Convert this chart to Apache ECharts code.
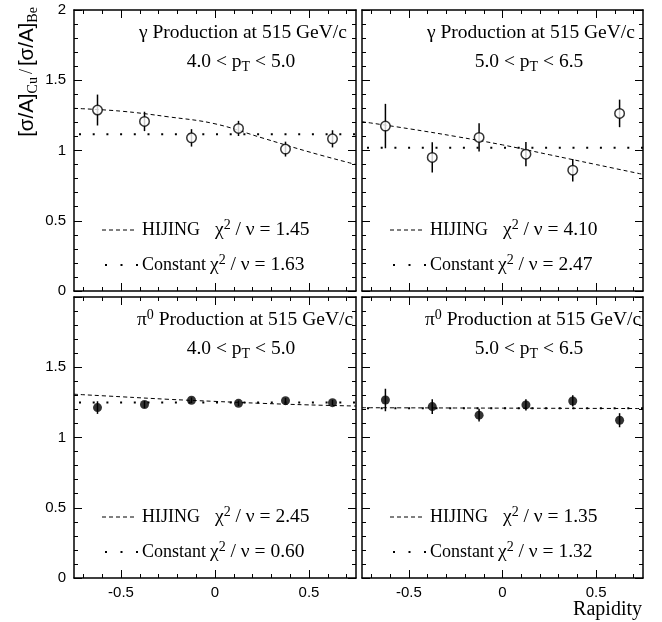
<!DOCTYPE html>
<html>
<head>
<meta charset="utf-8">
<script src="https://cdn.jsdelivr.net/npm/echarts@6/dist/echarts.min.js"></script>
<style>
  html, body { margin: 0; padding: 0; background: #fff; }
  #chart { width: 662px; height: 622px; }
</style>
</head>
<body>
<div id="chart"></div>
<script>
// Rapidity bin centres shared by all four panels
const rapidity = [-0.625, -0.375, -0.125, 0.125, 0.375, 0.625];
// Abscissae at which the HIJING prediction is sampled
const hijingX = [-0.75, -0.5, -0.25, 0, 0.25, 0.5, 0.75];
const fitRange = [-0.75, 0.75];

// Direct photons, 4.0 < pT < 5.0
const gamma45 = [1.288, 1.207, 1.090, 1.157, 1.010, 1.083];
const gamma45Err = [0.110, 0.069, 0.062, 0.054, 0.053, 0.061];
const gamma45Hijing = [1.300, 1.280, 1.240, 1.190, 1.090, 0.990, 0.900];
const gamma45Const = 1.115;
const gamma45Chi2 = ['1.45', '1.63'];

// Direct photons, 5.0 < pT < 6.5
const gamma565 = [1.174, 0.951, 1.093, 0.974, 0.860, 1.264];
const gamma565Err = [0.158, 0.107, 0.101, 0.086, 0.080, 0.098];
const gamma565Hijing = [1.205, 1.155, 1.100, 1.040, 0.970, 0.900, 0.830];
const gamma565Const = 1.020;
const gamma565Chi2 = ['4.10', '2.47'];

// Neutral pions, 4.0 < pT < 5.0
const pi45 = [1.213, 1.235, 1.265, 1.243, 1.262, 1.248];
const pi45Err = [0.045, 0.025, 0.020, 0.020, 0.020, 0.020];
const pi45Hijing = [1.308, 1.290, 1.272, 1.257, 1.243, 1.232, 1.224];
const pi45Const = 1.250;
const pi45Chi2 = ['2.45', '0.60'];

// Neutral pions, 5.0 < pT < 6.5
const pi565 = [1.267, 1.220, 1.159, 1.232, 1.260, 1.123];
const pi565Err = [0.080, 0.053, 0.045, 0.040, 0.040, 0.050];
const pi565Hijing = [1.212, 1.211, 1.210, 1.209, 1.208, 1.207, 1.206];
const pi565Const = 1.208;
const pi565Chi2 = ['1.35', '1.32'];

// Axis tick positions
const yTickInterval = 0.5;
const xMajorTicks = [-0.5, 0, 0.5];
const xMinorTicks = [-0.7, -0.6, -0.4, -0.3, -0.2, -0.1, 0.1, 0.2, 0.3, 0.4, 0.6, 0.7];

const SERIF = 'Liberation Serif';
const SANS = 'Liberation Sans';

const panels = [
  { rect: [74, 10, 282, 281], particle: 'gamma', bin: ['4.0', '5.0'], values: gamma45, errors: gamma45Err,
    hijing: gamma45Hijing, constant: gamma45Const, chi2: gamma45Chi2, open: true, bottomRow: false },
  { rect: [362, 10, 281, 281], particle: 'gamma', bin: ['5.0', '6.5'], values: gamma565, errors: gamma565Err,
    hijing: gamma565Hijing, constant: gamma565Const, chi2: gamma565Chi2, open: true, bottomRow: false },
  { rect: [74, 297, 282, 281], particle: 'pi', bin: ['4.0', '5.0'], values: pi45, errors: pi45Err,
    hijing: pi45Hijing, constant: pi45Const, chi2: pi45Chi2, open: false, bottomRow: true },
  { rect: [362, 297, 281, 281], particle: 'pi', bin: ['5.0', '6.5'], values: pi565, errors: pi565Err,
    hijing: pi565Hijing, constant: pi565Const, chi2: pi565Chi2, open: false, bottomRow: true }
];

const black = '#000';
const grids = [], xAxes = [], yAxes = [], series = [], graphics = [];

const labelText = { color: black, fontFamily: SANS, fontSize: 15 };

function xAxisDef(gridIndex, position, ticks, len, showLine, labels) {
  return {
    type: 'value', gridIndex, position, min: -0.75, max: 0.75,
    axisLine: { show: showLine, onZero: false, lineStyle: { color: black, width: 1.5 } },
    axisTick: { show: true, inside: true, length: len, customValues: ticks, lineStyle: { color: black, width: 1 } },
    axisLabel: labels
      ? Object.assign({ show: true, margin: 7, customValues: ticks }, labelText)
      : { show: false },
    splitLine: { show: false }
  };
}

function yAxisDef(gridIndex, position, showLabels, hideTop) {
  return {
    type: 'value', gridIndex, position, min: 0, max: 2, interval: yTickInterval,
    axisLine: { show: true, onZero: false, lineStyle: { color: black, width: 1.5 } },
    axisTick: { show: true, inside: true, length: 8, lineStyle: { color: black, width: 1 } },
    minorTick: { show: true, splitNumber: 5, length: 4, lineStyle: { color: black, width: 1 } },
    axisLabel: showLabels
      ? Object.assign({ show: true, margin: 8, formatter: v => (hideTop && v === 2 ? '' : String(v)) }, labelText)
      : { show: false },
    splitLine: { show: false },
    minorSplitLine: { show: false }
  };
}

const richBase = {
  t: { fontFamily: SERIF, fontSize: 19.5, color: black, lineHeight: 24 },
  w: { fontFamily: SERIF, fontSize: 18, color: black, lineHeight: 24 },
  sub: { fontFamily: SERIF, fontSize: 14, color: black, lineHeight: 14, verticalAlign: 'bottom' },
  sup: { fontFamily: SERIF, fontSize: 14, color: black, lineHeight: 14, verticalAlign: 'top' }
};

function richText(x, y, text, align) {
  return {
    type: 'text', x, y, z: 100,
    style: { text, rich: richBase, textAlign: align || 'left', textVerticalAlign: 'middle', fill: black }
  };
}

panels.forEach((p, i) => {
  const [gl, gt, gw, gh] = p.rect;
  grids.push({ left: gl, top: gt, width: gw, height: gh, outerBoundsMode: 'none', containLabel: false });

  xAxes.push(xAxisDef(i, 'bottom', xMajorTicks, 8, true, p.bottomRow));
  xAxes.push(xAxisDef(i, 'bottom', xMinorTicks, 4, false, false));
  xAxes.push(xAxisDef(i, 'top', xMajorTicks, 8, true, false));
  xAxes.push(xAxisDef(i, 'top', xMinorTicks, 4, false, false));
  yAxes.push(yAxisDef(i, 'left', i % 2 === 0, p.bottomRow));
  yAxes.push(yAxisDef(i, 'right', false, false));

  const xi = 4 * i, yi = 2 * i;

  // HIJING prediction
  series.push({
    type: 'line', name: 'HIJING', xAxisIndex: xi, yAxisIndex: yi,
    data: hijingX.map((x, k) => [x, p.hijing[k]]),
    smooth: 0.4, showSymbol: false, symbol: 'none', z: 2, silent: true,
    lineStyle: { color: black, width: 1, type: [4, 3] }
  });

  // Constant fit
  series.push({
    type: 'line', name: 'Constant', xAxisIndex: xi, yAxisIndex: yi,
    data: fitRange.map(x => [x, p.constant]),
    showSymbol: false, symbol: 'none', z: 2, silent: true,
    lineStyle: { color: black, width: 2, type: [2, 11.7], dashOffset: -5 }
  });

  // Statistical error bars
  series.push({
    type: 'custom', xAxisIndex: xi, yAxisIndex: yi, z: 3, silent: true,
    data: rapidity.map((x, k) => [x, p.values[k] - p.errors[k], p.values[k] + p.errors[k]]),
    encode: { x: 0, y: [1, 2] },
    renderItem: (params, api) => {
      const a = api.coord([api.value(0), api.value(1)]);
      const b = api.coord([api.value(0), api.value(2)]);
      return { type: 'line', shape: { x1: a[0], y1: a[1], x2: b[0], y2: b[1] },
               style: { stroke: black, lineWidth: 1.5 } };
    }
  });

  // Measured ratios
  series.push({
    type: 'scatter', xAxisIndex: xi, yAxisIndex: yi, z: 4, silent: true,
    data: rapidity.map((x, k) => [x, p.values[k]]),
    symbol: 'circle', symbolSize: p.open ? 9.5 : 9,
    itemStyle: p.open ? { color: '#fff', borderColor: black, borderWidth: 1.5 } : { color: black, borderWidth: 0 }
  });

  // Panel captions
  const head = p.particle === 'gamma'
    ? '{t|γ Production at 515 GeV/c}'
    : '{t|π}{sup|0}{t| Production at 515 GeV/c}';
  graphics.push(richText(gl + (p.particle === 'gamma' ? 65 : 63), gt + 23, head));
  graphics.push(richText(gl + 167, gt + 52, `{t|${p.bin[0]} < p}{sub|T}{t| < ${p.bin[1]}}`, 'center'));

  // Fit legend
  graphics.push({ type: 'line', z: 100, shape: { x1: gl + 28, y1: gt + 220, x2: gl + 63, y2: gt + 220 },
                  style: { stroke: black, lineWidth: 1, lineDash: [4, 3] } });
  graphics.push(richText(gl + 68, gt + 220, '{w|HIJING}'));
  graphics.push(richText(gl + 141, gt + 220, `{t|χ}{sup|2}{t| / ν = ${p.chi2[0]}}`));
  graphics.push({ type: 'line', z: 100, shape: { x1: gl + 31, y1: gt + 255, x2: gl + 65, y2: gt + 255 },
                  style: { stroke: black, lineWidth: 2, lineDash: [2, 13.5] } });
  graphics.push(richText(gl + 68, gt + 255, '{w|Constant}'));
  graphics.push(richText(gl + 136, gt + 255, `{t|χ}{sup|2}{t| / ν = ${p.chi2[1]}}`));
});

// Axis titles
graphics.push({
  type: 'text', x: 27, y: 72, rotation: Math.PI / 2, z: 100,
  style: {
    text: '{s|[σ/A]}{b|Cu}{t|/}{s|[σ/A]}{b|Be}',
    textAlign: 'center', textVerticalAlign: 'middle', fill: black,
    rich: {
      s: { fontFamily: SANS, fontSize: 20.5, color: black, lineHeight: 26 },
      t: { fontFamily: SERIF, fontSize: 18, color: black, lineHeight: 26, padding: [0, 3, 0, 3] },
      b: { fontFamily: SERIF, fontSize: 14, color: black, lineHeight: 14, verticalAlign: 'bottom' }
    }
  }
});
graphics.push({
  type: 'text', x: 642, y: 610, z: 100,
  style: { text: 'Rapidity', font: `20px "${SERIF}"`, fill: black, textAlign: 'right', textVerticalAlign: 'middle' }
});

const chart = echarts.init(document.getElementById('chart'), null, { renderer: 'canvas' });
chart.setOption({
  animation: false,
  backgroundColor: '#fff',
  grid: grids,
  xAxis: xAxes,
  yAxis: yAxes,
  series,
  graphic: { elements: graphics }
});
</script>
</body>
</html>
